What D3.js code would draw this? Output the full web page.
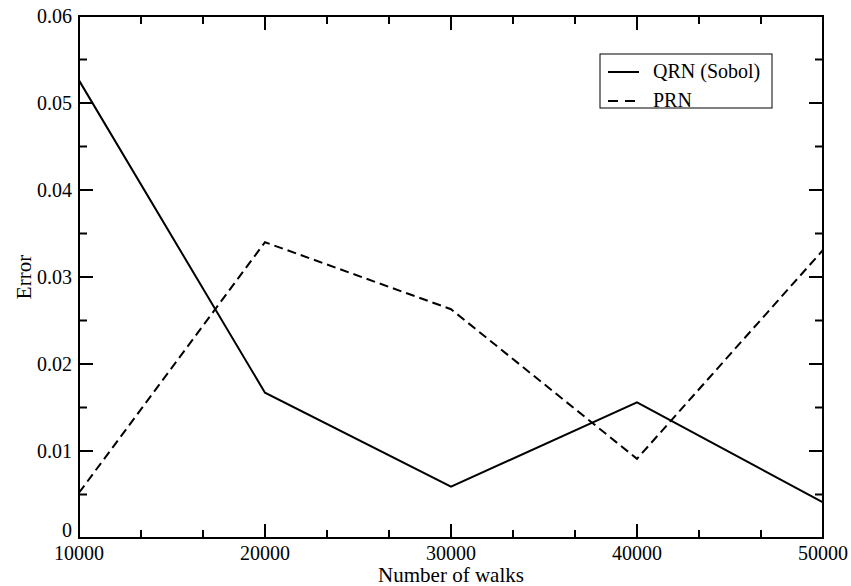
<!DOCTYPE html>
<html>
<head>
<meta charset="utf-8">
<script src="https://cdn.jsdelivr.net/npm/d3@7.9.0/dist/d3.min.js"></script>
<style>
  body { margin: 0; background: #fff; }
  svg { display: block; }
  svg text { font-family: "Liberation Serif", "Times New Roman", serif; }
</style>
</head>
<body>
<div id="chart"></div>
<script>
// --- data ---
const walks = [10000, 20000, 30000, 40000, 50000];
const qrnError = [0.0526, 0.0167, 0.0059, 0.0156, 0.0041];
const prnError = [0.0052, 0.0340, 0.0263, 0.0091, 0.0331];
const xTicks = [10000, 20000, 30000, 40000, 50000];
const yTicks = [0, 0.01, 0.02, 0.03, 0.04, 0.05, 0.06];
const seriesNames = ["QRN (Sobol)", "PRN"];

const width = 851;
const height = 586;
const margin = { top: 16, right: 28, bottom: 48, left: 79 };

const svg = d3.select("#chart")
  .append("svg")
  .attr("width", width)
  .attr("height", height);

const x = d3.scaleLinear()
  .domain([10000, 50000])
  .range([margin.left, width - margin.right]);

const y = d3.scaleLinear()
  .domain([0, 0.06])
  .range([height - margin.bottom, margin.top]);

const x0 = x.range()[0], x1 = x.range()[1];
const y0 = y.range()[0], y1 = y.range()[1];

// minor ticks (xmgrace style: 2 minor per major on x, 1 on y)
const xMinor = [];
for (let i = 0; i < xTicks.length - 1; i++) {
  const step = (xTicks[i + 1] - xTicks[i]) / 3;
  xMinor.push(xTicks[i] + step, xTicks[i] + 2 * step);
}
const yMinor = [];
for (let i = 0; i < yTicks.length - 1; i++) {
  yMinor.push((yTicks[i] + yTicks[i + 1]) / 2);
}

// --- series lines ---
const line = d3.line()
  .x((d) => x(d[0]))
  .y((d) => y(d[1]));

svg.append("path")
  .datum(walks.map((w, i) => [w, qrnError[i]]))
  .attr("d", line)
  .attr("fill", "none")
  .attr("stroke", "#000")
  .attr("stroke-width", 2);

svg.append("path")
  .datum(walks.map((w, i) => [w, prnError[i]]))
  .attr("d", line)
  .attr("fill", "none")
  .attr("stroke", "#000")
  .attr("stroke-width", 2)
  .attr("stroke-dasharray", "9,5");

// --- frame + inward ticks on all sides ---
const ticks = svg.append("g").attr("stroke", "#000").attr("stroke-width", 2);

const majorLen = 14, minorLen = 8;

xTicks.forEach((t) => {
  ticks.append("line").attr("x1", x(t)).attr("x2", x(t)).attr("y1", y0).attr("y2", y0 - majorLen);
  ticks.append("line").attr("x1", x(t)).attr("x2", x(t)).attr("y1", y1).attr("y2", y1 + majorLen);
});
xMinor.forEach((t) => {
  ticks.append("line").attr("x1", x(t)).attr("x2", x(t)).attr("y1", y0).attr("y2", y0 - minorLen);
  ticks.append("line").attr("x1", x(t)).attr("x2", x(t)).attr("y1", y1).attr("y2", y1 + minorLen);
});
yTicks.forEach((t) => {
  ticks.append("line").attr("y1", y(t)).attr("y2", y(t)).attr("x1", x0).attr("x2", x0 + majorLen);
  ticks.append("line").attr("y1", y(t)).attr("y2", y(t)).attr("x1", x1).attr("x2", x1 - majorLen);
});
yMinor.forEach((t) => {
  ticks.append("line").attr("y1", y(t)).attr("y2", y(t)).attr("x1", x0).attr("x2", x0 + minorLen);
  ticks.append("line").attr("y1", y(t)).attr("y2", y(t)).attr("x1", x1).attr("x2", x1 - minorLen);
});

svg.append("rect")
  .attr("x", x0)
  .attr("y", y1)
  .attr("width", x1 - x0)
  .attr("height", y0 - y1)
  .attr("fill", "none")
  .attr("stroke", "#000")
  .attr("stroke-width", 2);

// --- tick labels ---
svg.append("g")
  .selectAll("text")
  .data(xTicks)
  .join("text")
  .attr("x", (d) => x(d))
  .attr("y", y0 + 22)
  .attr("text-anchor", "middle")
  .attr("font-size", 20)
  .text((d) => d);

svg.append("g")
  .selectAll("text")
  .data(yTicks)
  .join("text")
  .attr("x", x0 - 7)
  .attr("y", (d) => y(d) + (d === 0 ? -1 : 7))
  .attr("text-anchor", "end")
  .attr("font-size", 20)
  .text((d) => (d === 0 ? "0" : d3.format(".2f")(d)));

// --- axis titles ---
svg.append("text")
  .attr("x", (x0 + x1) / 2)
  .attr("y", 582)
  .attr("text-anchor", "middle")
  .attr("font-size", 21)
  .text("Number of walks");

svg.append("text")
  .attr("transform", `translate(31, ${(y0 + y1) / 2}) rotate(-90)`)
  .attr("text-anchor", "middle")
  .attr("font-size", 21)
  .text("Error");

// --- legend ---
const legend = svg.append("g");
legend.append("rect")
  .attr("x", 600)
  .attr("y", 54)
  .attr("width", 172)
  .attr("height", 54)
  .attr("fill", "#fff")
  .attr("stroke", "#000")
  .attr("stroke-width", 1);

const dashes = [null, "10,7"];
seriesNames.forEach((name, i) => {
  const ly = 72 + i * 29;
  legend.append("line")
    .attr("x1", 608).attr("x2", 639)
    .attr("y1", ly).attr("y2", ly)
    .attr("stroke", "#000")
    .attr("stroke-width", 2)
    .attr("stroke-dasharray", dashes[i]);
  legend.append("text")
    .attr("x", 653)
    .attr("y", ly + 6)
    .attr("font-size", 20)
    .text(name);
});
</script>
</body>
</html>
